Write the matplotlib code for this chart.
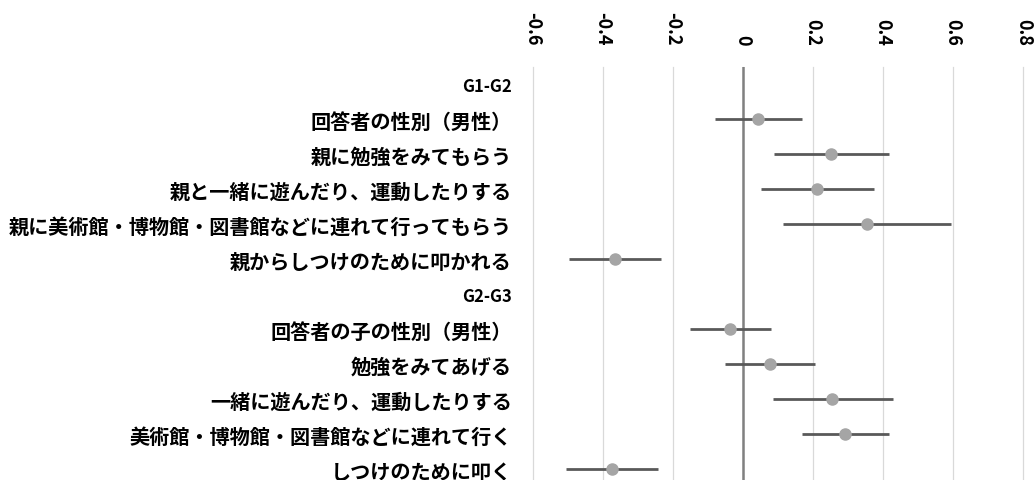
import matplotlib
matplotlib.use("Agg")
import matplotlib.pyplot as plt
import numpy as np

plt.rcParams["font.family"] = ["Noto Sans CJK JP", "DejaVu Sans"]

# Row labels (group headers carry no estimate)
labels = [
    "G1-G2",
    "回答者の性別（男性）",
    "親に勉強をみてもらう",
    "親と一緒に遊んだり、運動したりする",
    "親に美術館・博物館・図書館などに連れて行ってもらう",
    "親からしつけのために叩かれる",
    "G2-G3",
    "回答者の子の性別（男性）",
    "勉強をみてあげる",
    "一緒に遊んだり、運動したりする",
    "美術館・博物館・図書館などに連れて行く",
    "しつけのために叩く",
]
group_headers = ["G1-G2", "G2-G3"]

nan = np.nan
estimates = [nan, 0.043, 0.252, 0.211, 0.353, -0.364, nan, -0.036, 0.076, 0.255, 0.292, -0.375]
lower = [nan, -0.081, 0.088, 0.052, 0.113, -0.495, nan, -0.152, -0.050, 0.085, 0.169, -0.506]
upper = [nan, 0.169, 0.417, 0.373, 0.594, -0.234, nan, 0.081, 0.206, 0.428, 0.418, -0.242]

x_ticks = [-0.6, -0.4, -0.2, 0.0, 0.2, 0.4, 0.6, 0.8]
x_tick_labels = ["-0.6", "-0.4", "-0.2", "0", "0.2", "0.4", "0.6", "0.8"]

fig = plt.figure(figsize=(10.34, 4.81), dpi=100)
ax = fig.add_axes([532.7 / 1034, -6.8 / 481, 490.6 / 1034, 420 / 481])

y = np.arange(len(labels))
ax.hlines(y, lower, upper, color="#595959", lw=2.0, zorder=3)
ax.plot(estimates, y, "o", ms=8, color="#a5a5a5", mec="#a5a5a5", zorder=4)
ax.axvline(0, color="#808080", lw=1.8, zorder=2)

ax.set_xlim(-0.6, 0.8)
ax.set_ylim(11.5, -0.5)

ax.xaxis.tick_top()
ax.set_xticks(x_ticks)
ax.set_xticklabels(x_tick_labels, rotation=-90, fontsize=13, fontweight="bold")
ax.tick_params(axis="x", length=0, pad=16)
ax.grid(axis="x", color="#d9d9d9", lw=0.9, zorder=0)
for gl in ax.get_xgridlines():
    gl.set_clip_on(False)

ax.set_yticks(y)
ax.set_yticklabels(labels, fontsize=14.5, fontweight="bold")
ax.tick_params(axis="y", length=0, pad=15)
for t, lab in zip(ax.get_yticklabels(), labels):
    if lab in group_headers:
        t.set_fontsize(12)

for spine in ax.spines.values():
    spine.set_visible(False)

fig.savefig("out.png", dpi=100)
